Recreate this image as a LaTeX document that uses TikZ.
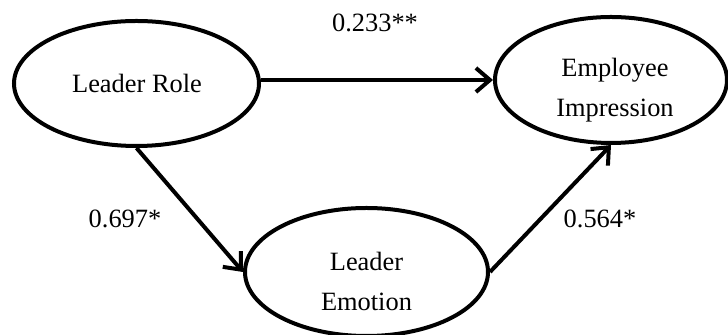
\documentclass[tikz,border=0pt]{standalone}
\usepackage{fontspec}
\setmainfont{Liberation Serif}
\usetikzlibrary{shapes.geometric,arrows.meta}

\begin{document}
\begin{tikzpicture} [x=0.5pt, y=-0.5pt,
		var/.style={draw, ellipse, line width=2pt, inner sep=0pt},
		txt/.style={align=center, inner sep=0pt, font=\fontsize{13.2}{20}\selectfont},
		link/.style={line width=2pt, -{Straight Barb[length=7pt, width=12pt]}}]
		
		\useasboundingbox (0,0) rectangle (728,335);
		
		\coordinate (R) at (136.5,83.5);
		\coordinate (I) at (611,80);
		\coordinate (E) at (366.5,272);
		
		\node[var, minimum width=122.5pt, minimum height=62.5pt] (role) at (R) {};
		\node[var, minimum width=116pt, minimum height=63pt] (imp) at (I) {};
		\node[var, minimum width=121.5pt, minimum height=64pt] (emo) at (E) {};
		
		\node[txt] (role-t) at (137,83) {Leader Role};
		\node[txt] (imp-t) at (615,90) {Employee\\Impression};
		\node[txt] (emo-t) at (366.5,281.5) {Leader\\Emotion};
		
		\draw[link] (role.east |- imp) -- (imp);
		\draw[link] (role.south) -- (emo.west);
		\draw[link] (emo.east) -- (imp.south);
		
		\node[txt] (c-ri) at (375,23) {0.233**};
		\node[txt] (c-re) at (125,219) {0.697*};
		\node[txt] (c-ei) at (600,219) {0.564*};
	
	\end{tikzpicture}
\end{document}
